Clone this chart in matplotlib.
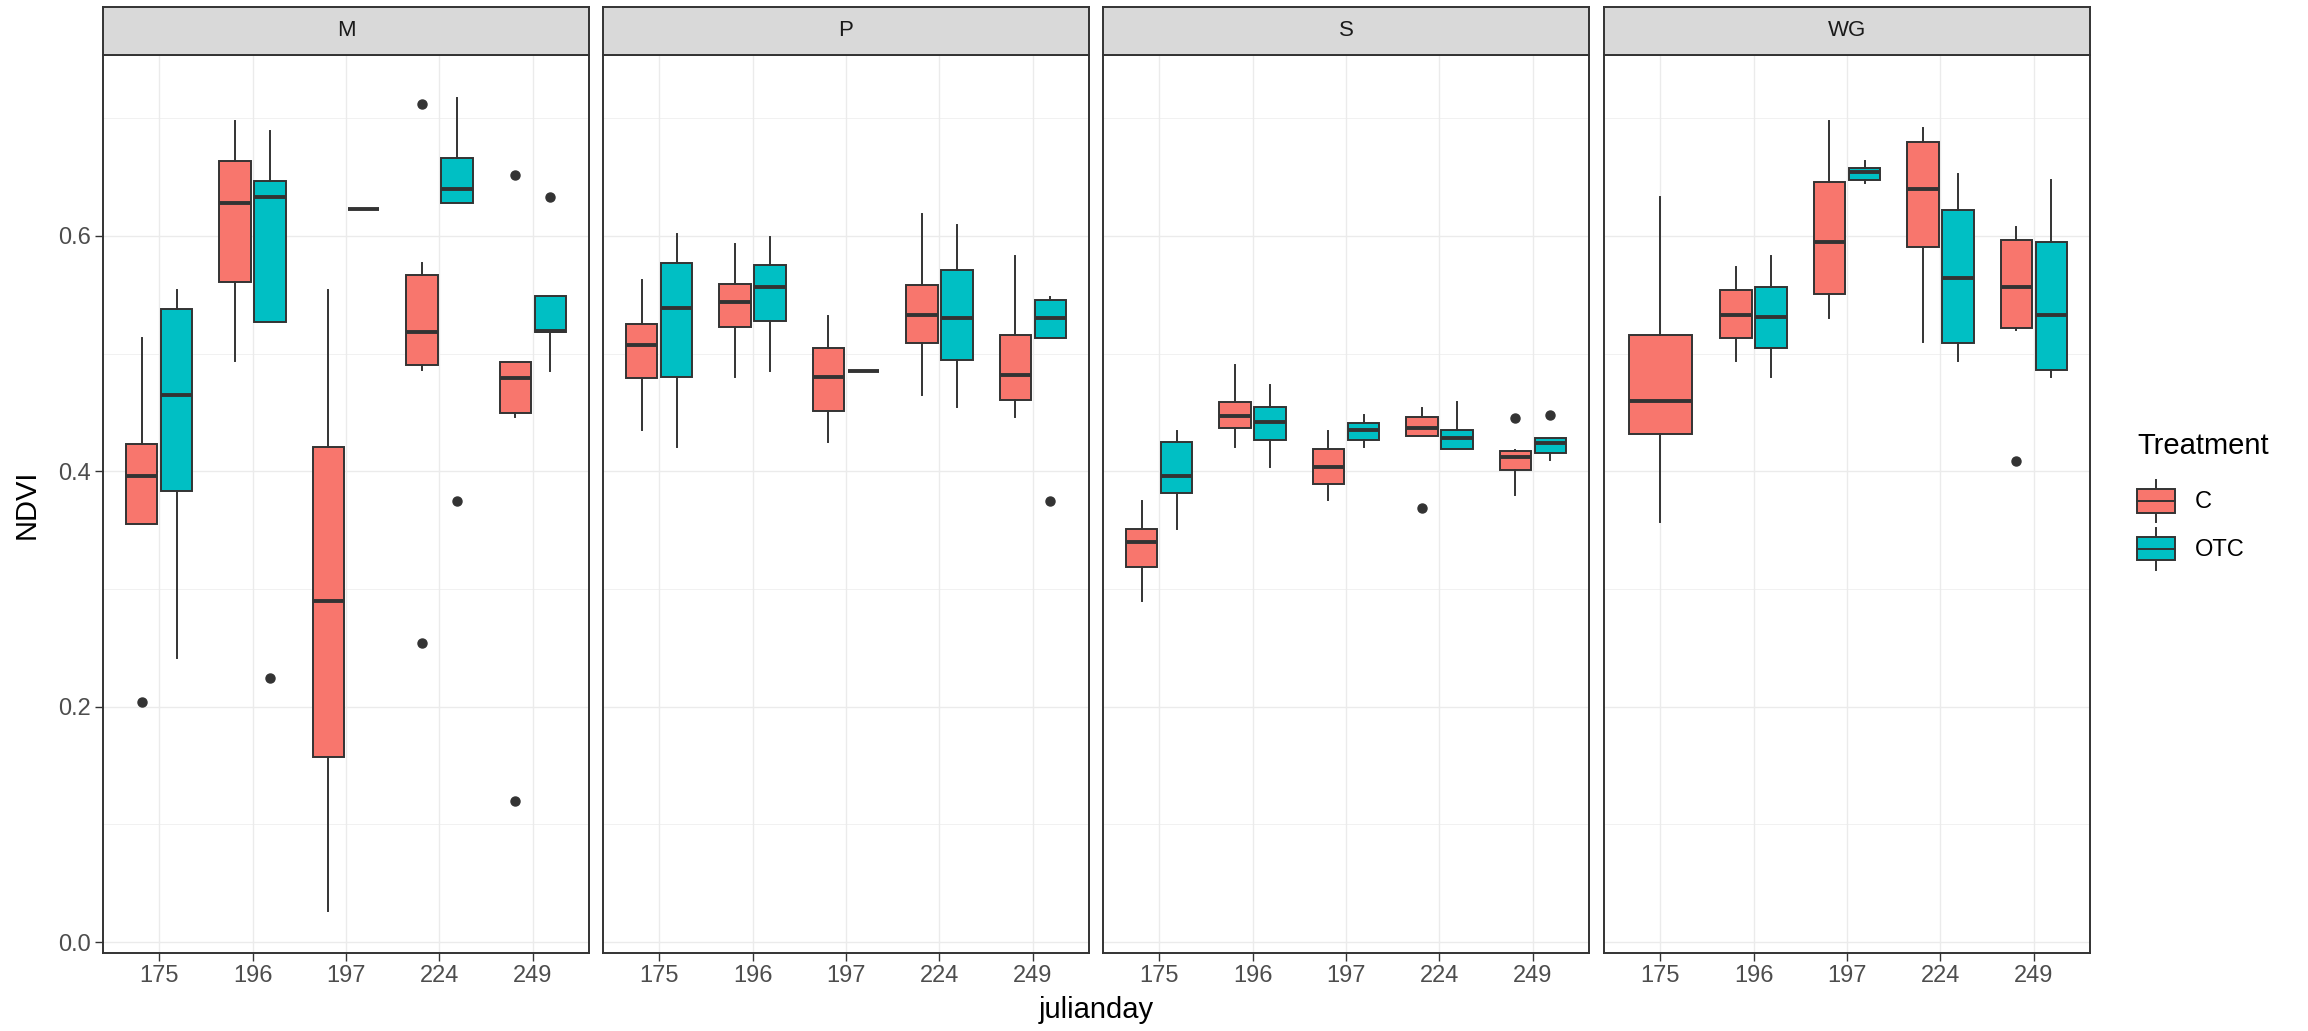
import matplotlib
matplotlib.use("Agg")
import matplotlib.pyplot as plt
from matplotlib.legend_handler import HandlerBase
from matplotlib.patches import Patch, Rectangle
from matplotlib.lines import Line2D

plt.rcParams['font.family'] = ['Liberation Sans', 'DejaVu Sans']

# categories and groups
days = ["175", "196", "197", "224", "249"]
sites = ["M", "P", "S", "WG"]
treatments = ["C", "OTC"]

# box stats per day: (whisker low, q1, median, q3, whisker high); None = no data
M_C = [(0.355, 0.355, 0.396, 0.423, 0.513),
       (0.494, 0.561, 0.628, 0.664, 0.698),
       (0.026, 0.157, 0.290, 0.421, 0.554),
       (0.486, 0.490, 0.518, 0.567, 0.577),
       (0.446, 0.450, 0.479, 0.493, 0.493)]
M_OTC = [(0.241, 0.383, 0.465, 0.538, 0.554),
         (0.527, 0.527, 0.633, 0.647, 0.689),
         (0.623, 0.623, 0.623, 0.623, 0.623),
         (0.628, 0.628, 0.640, 0.666, 0.717),
         (0.485, 0.518, 0.519, 0.549, 0.549)]
P_C = [(0.435, 0.479, 0.507, 0.525, 0.563),
       (0.480, 0.523, 0.544, 0.559, 0.593),
       (0.425, 0.451, 0.480, 0.505, 0.532),
       (0.465, 0.509, 0.533, 0.558, 0.619),
       (0.446, 0.461, 0.482, 0.516, 0.583)]
P_OTC = [(0.421, 0.480, 0.539, 0.577, 0.602),
         (0.485, 0.528, 0.557, 0.575, 0.599),
         (0.485, 0.485, 0.485, 0.485, 0.485),
         (0.455, 0.495, 0.530, 0.571, 0.609),
         (0.513, 0.513, 0.530, 0.546, 0.548)]
S_C = [(0.290, 0.319, 0.340, 0.351, 0.375),
       (0.421, 0.437, 0.447, 0.459, 0.490),
       (0.376, 0.389, 0.404, 0.419, 0.434),
       (0.430, 0.430, 0.437, 0.446, 0.454),
       (0.380, 0.401, 0.412, 0.417, 0.418)]
S_OTC = [(0.351, 0.382, 0.396, 0.425, 0.434),
         (0.404, 0.427, 0.442, 0.455, 0.473),
         (0.421, 0.427, 0.435, 0.441, 0.448),
         (0.419, 0.419, 0.428, 0.435, 0.459),
         (0.410, 0.416, 0.424, 0.428, 0.428)]
WG_C = [(0.357, 0.432, 0.460, 0.516, 0.633),
        (0.494, 0.513, 0.533, 0.554, 0.574),
        (0.530, 0.551, 0.595, 0.646, 0.698),
        (0.510, 0.591, 0.640, 0.680, 0.692),
        (0.520, 0.522, 0.557, 0.597, 0.608)]
WG_OTC = [None,
          (0.480, 0.505, 0.531, 0.557, 0.583),
          (0.645, 0.648, 0.654, 0.658, 0.664),
          (0.494, 0.509, 0.564, 0.622, 0.653),
          (0.480, 0.486, 0.533, 0.595, 0.648)]

# outliers per day
M_C_out = [[0.204], [], [], [0.712, 0.254], [0.652, 0.120]]
M_OTC_out = [[], [0.224], [], [0.375], [0.633]]
P_C_out = [[], [], [], [], []]
P_OTC_out = [[], [], [], [], [0.375]]
S_C_out = [[], [], [], [0.369], [0.445]]
S_OTC_out = [[], [], [], [], [0.448]]
WG_C_out = [[], [], [], [], [0.409]]
WG_OTC_out = [[], [], [], [], []]

data = {
    "M": (M_C, M_OTC, M_C_out, M_OTC_out),
    "P": (P_C, P_OTC, P_C_out, P_OTC_out),
    "S": (S_C, S_OTC, S_C_out, S_OTC_out),
    "WG": (WG_C, WG_OTC, WG_C_out, WG_OTC_out),
}

colors = {"C": "#F8766D", "OTC": "#00BFC4"}
edge = "#333333"
grid = "#EBEBEB"

W, H = 2308, 1031
fig = plt.figure(figsize=(W / 100, H / 100), dpi=100)

panel_left = [103, 603, 1103, 1604]
panel_w = 486
panel_top, panel_bottom = 55, 953
strip_top = 7


def fx(px):
    return px / W


def fy(py):
    return 1 - py / H


lw = 1.4
for i, site in enumerate(sites):
    c_stats, o_stats, c_out, o_out = data[site]
    ax = fig.add_axes([fx(panel_left[i]), fy(panel_bottom), fx(panel_w),
                       fy(panel_top) - fy(panel_bottom)])
    ax.set_xlim(0.4, 5.6)
    ax.set_ylim(-0.0093, 0.7538)

    # grid like theme_bw
    ax.set_yticks([0.0, 0.2, 0.4, 0.6])
    ax.set_yticks([0.1, 0.3, 0.5, 0.7], minor=True)
    ax.set_xticks(range(1, 6))
    ax.set_xticklabels(days)
    ax.grid(True, which="major", color=grid, linewidth=1.0, zorder=0)
    ax.grid(True, which="minor", axis="y", color=grid, linewidth=0.5, zorder=0)
    ax.set_axisbelow(True)
    ax.tick_params(axis="both", which="major", length=5.5, width=1.0,
                   color=edge, labelsize=17, labelcolor="#4D4D4D", pad=3)
    ax.tick_params(axis="y", which="minor", length=0)
    if i > 0:
        ax.tick_params(axis="y", which="major", labelleft=False, length=0)
    else:
        ax.set_yticklabels(["0.0", "0.2", "0.4", "0.6"])
    for sp in ax.spines.values():
        sp.set_color(edge)
        sp.set_linewidth(1.4)

    for t, stats_list, out_list, sign in [("C", c_stats, c_out, -1),
                                          ("OTC", o_stats, o_out, 1)]:
        other = o_stats if t == "C" else c_stats
        for j, s in enumerate(stats_list):
            if s is None:
                continue
            if other[j] is None:
                pos, wid = j + 1, 0.675
            else:
                pos, wid = j + 1 + sign * 0.1875, 0.3375
            st = dict(whislo=s[0], q1=s[1], med=s[2], q3=s[3], whishi=s[4],
                      fliers=out_list[j])
            ax.bxp([st], positions=[pos], widths=wid, patch_artist=True,
                   showcaps=False, manage_ticks=False,
                   boxprops=dict(facecolor=colors[t], edgecolor=edge, linewidth=lw),
                   whiskerprops=dict(color=edge, linewidth=lw),
                   medianprops=dict(color=edge, linewidth=lw * 2,
                                    solid_capstyle="butt"),
                   flierprops=dict(marker="o", markerfacecolor=edge,
                                   markeredgecolor=edge, markersize=6.5))

    # facet strip
    sax = fig.add_axes([fx(panel_left[i]), fy(panel_top), fx(panel_w),
                        fy(strip_top) - fy(panel_top)])
    sax.set_facecolor("#D9D9D9")
    sax.set_xticks([])
    sax.set_yticks([])
    for sp in sax.spines.values():
        sp.set_color(edge)
        sp.set_linewidth(1.4)
    sax.text(0.5, 0.5, site, ha="center", va="center", fontsize=16,
             color="#1A1A1A", transform=sax.transAxes)

fig.text(fx(1096), fy(1010), "julianday", ha="center", va="center", fontsize=21)
fig.text(fx(27), fy(504), "NDVI", ha="center", va="center", fontsize=21,
         rotation=90)


class BoxKey(HandlerBase):
    def create_artists(self, legend, orig_handle, xdescent, ydescent,
                       width, height, fontsize, trans):
        fc = orig_handle.get_facecolor()
        x0, y0 = -xdescent, -ydescent
        cx = x0 + width / 2
        whisk = Line2D([cx, cx], [y0, y0 + height], color=edge, linewidth=lw,
                       transform=trans)
        box = Rectangle((x0, y0 + height * 0.22), width, height * 0.56,
                        facecolor=fc, edgecolor=edge, linewidth=lw,
                        transform=trans)
        med = Line2D([x0, x0 + width], [y0 + height / 2] * 2, color=edge,
                     linewidth=lw, transform=trans)
        return [whisk, box, med]


handles = [Patch(facecolor=colors[t]) for t in treatments]
leg = fig.legend(handles, treatments, loc="center left",
                 bbox_to_anchor=(fx(2137), fy(501)), frameon=False,
                 fontsize=17, title="Treatment", title_fontsize=21,
                 handler_map={Patch: BoxKey()}, handlelength=1.6,
                 handleheight=2.36, labelspacing=0.25, handletextpad=0.85,
                 borderpad=0, borderaxespad=0, alignment="left")
# extra room between the title and the first key
leg._legend_box.sep = 14

fig.savefig("out.png", dpi=100, facecolor="white")
